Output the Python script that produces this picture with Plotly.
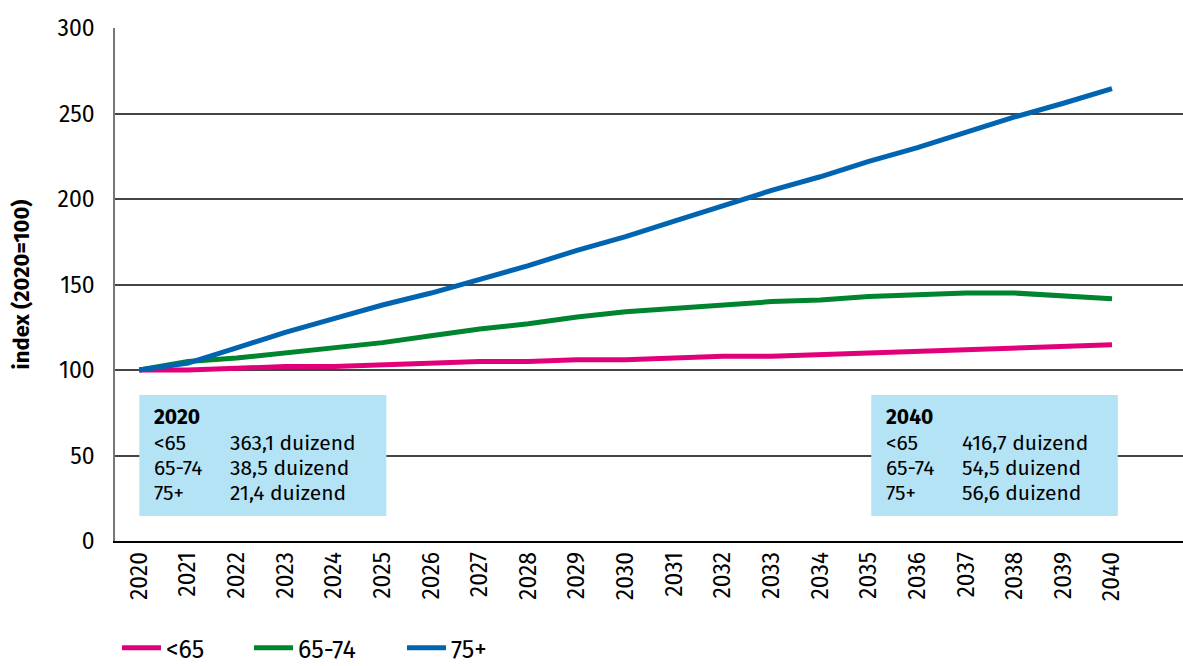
import plotly.graph_objects as go

years = list(range(2020, 2041))
under65 = [100, 100, 101, 102, 102, 103, 104, 105, 105, 106, 106, 107, 108, 108, 109, 110, 111, 112, 113, 114, 114.8]
age65_74 = [100, 105, 107, 110, 113, 116, 120, 124, 127, 131, 134, 136, 138, 140, 141, 143, 144, 145, 145, 143, 141.6]
age75plus = [100, 104, 113, 122, 130, 138, 145, 153, 161, 170, 178, 187, 196, 205, 213, 222, 230, 239, 248, 256, 264.5]

series_names = ["<65", "65-74", "75+"]
series_colors = ["#E2007A", "#00842F", "#0064B1"]

box_2020 = ["2020", ["<65", "65-74", "75+"], ["363,1 duizend", "38,5 duizend", "21,4 duizend"]]
box_2040 = ["2040", ["<65", "65-74", "75+"], ["416,7 duizend", "54,5 duizend", "56,6 duizend"]]

FONT = "Fira Sans, Noto Sans, Open Sans, sans-serif"
W, H = 1183, 666

fig = go.Figure()
legend_ids = ["legend", "legend2", "legend3"]
legend_px = [117, 249, 402]
for name, vals, col, lid in zip(series_names, [under65, age65_74, age75plus], series_colors, legend_ids):
    fig.add_trace(go.Scatter(x=years, y=vals, name=name, mode="lines",
                             line=dict(color=col, width=5), legend=lid))

# info boxes
boxes = [(box_2020, 2020.0, 2025.08), (box_2040, 2035.05, 2040.12)]
for (title, labels, values), x0, x1 in boxes:
    fig.add_shape(type="rect", x0=x0, x1=x1, y0=14.6, y1=85.4, xref="x", yref="y",
                  fillcolor="#B4E3F6", line=dict(width=0), layer="above")
    xt = x0 + 0.27
    xv = x0 + 1.83
    fig.add_annotation(x=xt, y=72.5, xref="x", yref="y", text="<b>" + title + "</b>",
                       showarrow=False, xanchor="left", yanchor="middle",
                       font=dict(size=21, color="#000", family=FONT))
    for i, (lab, val) in enumerate(zip(labels, values)):
        yy = 57.4 - i * 14.6
        fig.add_annotation(x=xt, y=yy, xref="x", yref="y", text=lab, showarrow=False,
                           xanchor="left", yanchor="middle",
                           font=dict(size=21, color="#000", family=FONT))
        fig.add_annotation(x=xv, y=yy, xref="x", yref="y", text=val, showarrow=False,
                           xanchor="left", yanchor="middle",
                           font=dict(size=21, color="#000", family=FONT))

legend_common = dict(orientation="h", xref="container", yref="container",
                     xanchor="left", yanchor="middle", y=1 - 648 / H,
                     font=dict(size=25, family=FONT), itemwidth=39,
                     bgcolor="rgba(0,0,0,0)")
layout_legends = {}
for lid, px in zip(legend_ids, legend_px):
    layout_legends[lid] = dict(legend_common, x=px / W)

fig.update_layout(
    width=W, height=H,
    margin=dict(l=115, r=0, t=28, b=125),
    paper_bgcolor="white", plot_bgcolor="white",
    font=dict(family=FONT, size=20, color="#000"),
    showlegend=True,
    xaxis=dict(range=[2019.5, 2041.46], tickmode="array", tickvals=years,
               ticktext=[str(y) for y in years], tickangle=-90, showgrid=False,
               showline=True, linecolor="#000", linewidth=1.5, ticks="",
               tickfont=dict(size=23), zeroline=False),
    yaxis=dict(range=[0, 300], tickvals=[0, 50, 100, 150, 200, 250, 300],
               showgrid=True, gridcolor="#444", gridwidth=1.5, showline=True,
               linecolor="#777", linewidth=1.5, ticks="", ticklabelstandoff=14,
               tickfont=dict(size=23), zeroline=False,
               title=dict(text="<b>index (2020=100)</b>", font=dict(size=22), standoff=22)),
    **layout_legends,
)

fig.write_html("out.html", config={"displayModeBar": False},
               post_script="document.body.style.margin='0';document.body.style.overflow='hidden';")
